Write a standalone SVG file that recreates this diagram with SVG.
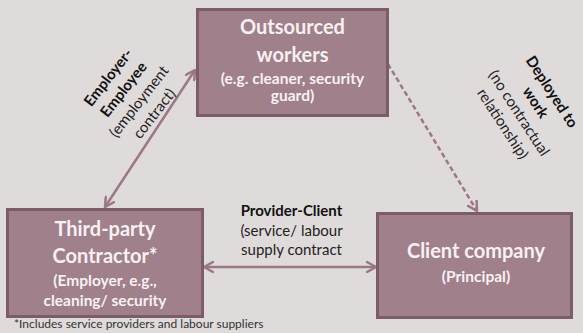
<svg xmlns="http://www.w3.org/2000/svg" width="583" height="333" viewBox="0 0 583 333">
  <defs>
    <style>
      .box { fill: #a0808a; stroke: #7d5c6a; stroke-width: 3; }
      .title { font-family: Lato, "Open Sans", sans-serif; font-weight: bold; font-size: 20px; fill: #f7f1f3; text-anchor: middle; }
      .sub { font-family: Lato, "Open Sans", sans-serif; font-weight: bold; font-size: 15.5px; fill: #f7f1f3; text-anchor: middle; }
      .lbl { font-family: Lato, "Open Sans", sans-serif; font-size: 15px; fill: #222; text-anchor: middle; }
      .lblb { font-weight: bold; fill: #111; }
      .edge { fill: none; stroke: #9a7885; stroke-width: 2.5; }
      .note { font-family: Lato, "Open Sans", sans-serif; font-size: 12px; fill: #333; }
    </style>
    <marker id="head" viewBox="0 0 12 12" refX="10" refY="6" markerWidth="12" markerHeight="12" markerUnits="userSpaceOnUse" orient="auto-start-reverse">
      <path d="M1,1 L10,6 L1,11" fill="none" stroke="#9a7885" stroke-width="2.5" stroke-linecap="round" stroke-linejoin="round"/>
    </marker>
  </defs>

  <rect width="583" height="333" fill="#e0dbdb"/>

  <!-- relationships -->
  <g id="connectors">
    <line class="edge" x1="105" y1="207" x2="195" y2="70" marker-start="url(#head)" marker-end="url(#head)"/>
    <line class="edge" x1="388" y1="64" x2="477" y2="211" stroke-dasharray="5,3" marker-end="url(#head)"/>
    <line class="edge" x1="204" y1="267" x2="376" y2="267" marker-start="url(#head)" marker-end="url(#head)"/>

    <g transform="translate(131.5,95.7) rotate(-52)">
      <text class="lbl lblb" x="0" y="-24.5">Employer-</text>
      <text class="lbl lblb" x="0" y="-5">Employee</text>
      <text class="lbl" x="0" y="14.5">(employment</text>
      <text class="lbl" x="0" y="34">contract)</text>
    </g>

    <g transform="translate(527,108) rotate(57)">
      <text class="lbl lblb" x="0" y="-24.5">Deployed to</text>
      <text class="lbl lblb" x="0" y="-5">work</text>
      <text class="lbl" x="0" y="14.5">(no contractual</text>
      <text class="lbl" x="0" y="34">relationship)</text>
    </g>

    <text class="lbl lblb" x="291.5" y="216">Provider-Client</text>
    <text class="lbl" x="291.5" y="236">(service/ labour</text>
    <text class="lbl" x="291.5" y="255">supply contract</text>
  </g>

  <g id="outsourced-workers">
    <rect class="box" x="197.5" y="9.5" width="190" height="106"/>
    <text class="title" x="292.5" y="34">Outsourced</text>
    <text class="title" x="292.5" y="62">workers</text>
    <text class="sub" x="292.5" y="84">(e.g. cleaner, security</text>
    <text class="sub" x="292.5" y="101">guard)</text>
  </g>

  <g id="third-party-contractor">
    <rect class="box" x="7.5" y="209.5" width="195" height="107"/>
    <text class="title" x="105" y="236">Third-party</text>
    <text class="title" x="105" y="263">Contractor*</text>
    <text class="sub" x="105" y="286">(Employer, e.g.,</text>
    <text class="sub" x="105" y="306">cleaning/ security</text>
  </g>

  <g id="client-company">
    <rect class="box" x="377.5" y="213.5" width="194" height="104"/>
    <text class="title" x="476" y="258">Client company</text>
    <text class="sub" x="476" y="282">(Principal)</text>
  </g>

  <text class="note" x="14" y="328">*Includes service providers and labour suppliers</text>
</svg>
